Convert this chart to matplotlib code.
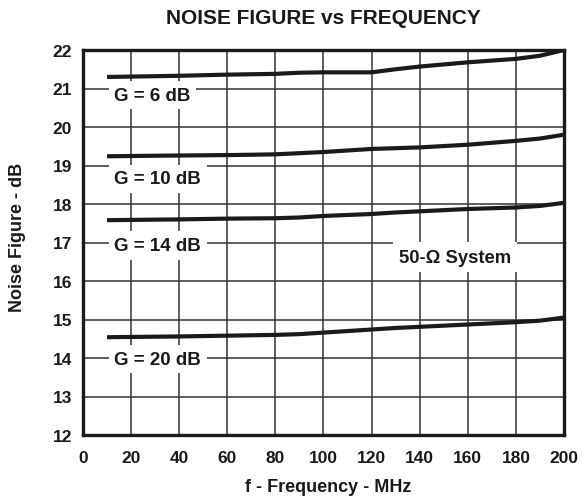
import matplotlib
matplotlib.use("Agg")
import matplotlib.pyplot as plt

plt.rcParams['font.family'] = ['Liberation Sans', 'DejaVu Sans']
plt.rcParams['font.weight'] = 'bold'

freq = [10, 40, 60, 80, 90, 100, 120, 130, 140, 160, 180, 190, 200]
nf_g6 = [21.30, 21.33, 21.36, 21.38, 21.41, 21.42, 21.42, 21.50, 21.57, 21.68, 21.77, 21.85, 22.00]
nf_g10 = [19.24, 19.26, 19.27, 19.29, 19.32, 19.35, 19.43, 19.45, 19.47, 19.54, 19.64, 19.70, 19.80]
nf_g14 = [17.58, 17.60, 17.62, 17.63, 17.65, 17.69, 17.74, 17.78, 17.81, 17.87, 17.91, 17.95, 18.03]
nf_g20 = [14.54, 14.56, 14.58, 14.60, 14.62, 14.66, 14.74, 14.78, 14.81, 14.87, 14.93, 14.97, 15.05]

series = [nf_g6, nf_g10, nf_g14, nf_g20]
labels = ["G = 6 dB", "G = 10 dB", "G = 14 dB", "G = 20 dB"]
label_y = [20.83, 18.65, 16.92, 13.97]

xticks = [0, 20, 40, 60, 80, 100, 120, 140, 160, 180, 200]
yticks = [12, 13, 14, 15, 16, 17, 18, 19, 20, 21, 22]

fig = plt.figure(figsize=(5.82, 5.02), dpi=100)
ax = fig.add_axes([83/582, 1-436/502, (564-83)/582, (436-51)/502])

ax.set_xlim(0, 200)
ax.set_ylim(12, 22)
ax.set_xticks(xticks)
ax.set_yticks(yticks)
ax.set_xticklabels([str(t) for t in xticks], fontsize=12.5, fontweight='bold')
ax.set_yticklabels([str(t) for t in yticks], fontsize=12.5, fontweight='bold')
ax.tick_params(axis='both', length=0, colors='#1a1a1a')
ax.tick_params(axis='y', pad=8)
ax.tick_params(axis='x', pad=11)
ax.grid(True, color='#333333', linewidth=1.1, zorder=1)
ax.set_axisbelow(True)
for s in ax.spines.values():
    s.set_linewidth(2.4)
    s.set_color('#1a1a1a')
    s.set_zorder(5)

for ys in series:
    ax.plot(freq, ys, color='#1a1a1a', linewidth=3.0, zorder=3, solid_capstyle='butt')

for lab, yy in zip(labels, label_y):
    ax.text(13.0, yy, lab, ha='left', va='center', fontsize=13.5, fontweight='bold',
            color='#1a1a1a', zorder=4,
            bbox=dict(facecolor='white', edgecolor='none', pad=4))

ax.text(154.7, 16.62, "50-Ω System", ha='center', va='center', fontsize=13.2,
        fontweight='bold', color='#1a1a1a', zorder=4,
        bbox=dict(facecolor='white', edgecolor='none', pad=4.5))

fig.text(323/582, 1-18/502, "NOISE FIGURE vs FREQUENCY", ha='center', va='center',
         fontsize=15, fontweight='bold', color='#1a1a1a')
fig.text(328/582, 1-488/502, "f - Frequency - MHz", ha='center', va='center',
         fontsize=13, fontweight='bold', color='#1a1a1a')
fig.text(18/582, 1-237/502, "Noise Figure - dB", ha='center', va='center',
         rotation=90, fontsize=13, fontweight='bold', color='#1a1a1a')

fig.savefig("out.png", dpi=100)
